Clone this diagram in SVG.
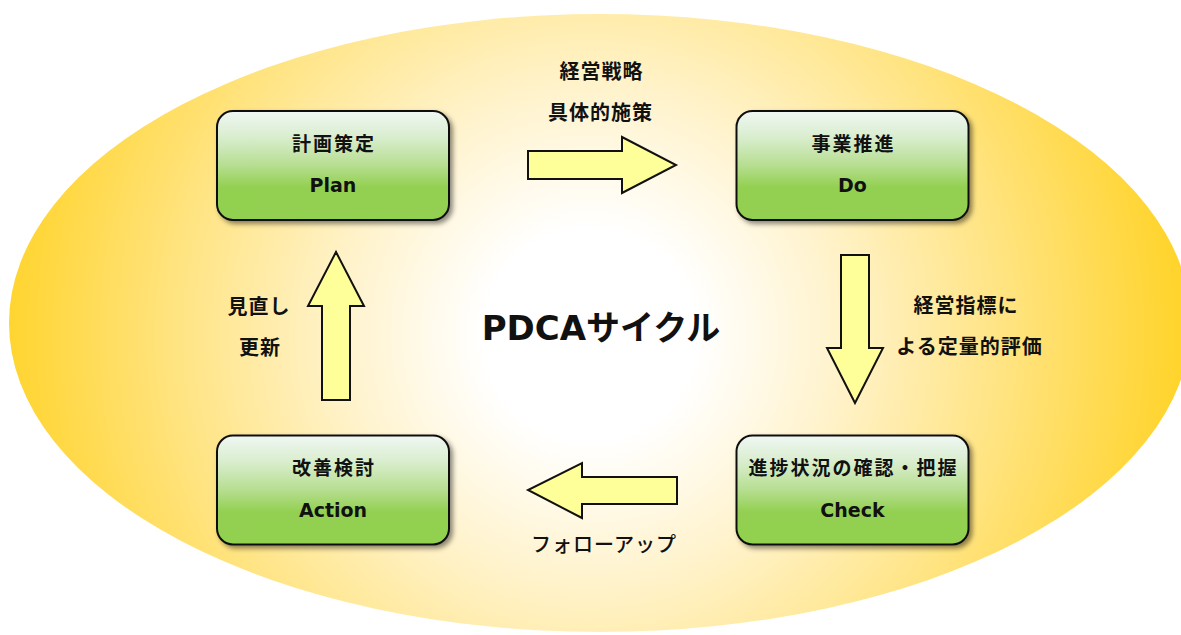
<svg xmlns="http://www.w3.org/2000/svg" width="1181" height="635" viewBox="0 0 1181 635">
  <defs>
    <radialGradient id="bg" gradientUnits="userSpaceOnUse" cx="590" cy="335" r="590">
      <stop offset="0" stop-color="#FFFFFF"/>
      <stop offset="0.18" stop-color="#FFFFFF"/>
      <stop offset="0.42" stop-color="#FFF3CC"/>
      <stop offset="0.68" stop-color="#FFE588"/>
      <stop offset="1" stop-color="#FFD42C"/>
    </radialGradient>
    <linearGradient id="boxg" x1="0" y1="0" x2="0" y2="1">
      <stop offset="0" stop-color="#F0F7F4"/>
      <stop offset="0.25" stop-color="#D8EDCC"/>
      <stop offset="0.5" stop-color="#B6DE90"/>
      <stop offset="0.7" stop-color="#93D051"/>
      <stop offset="1" stop-color="#92D050"/>
    </linearGradient>
    <filter id="shadow" x="-10%" y="-10%" width="125%" height="130%">
      <feDropShadow dx="3" dy="3" stdDeviation="2.5" flood-color="#000000" flood-opacity="0.45"/>
    </filter>
    <style>
      .box { fill: url(#boxg); stroke: #111111; stroke-width: 2; filter: url(#shadow); }
      .arrow { fill: #FFFF99; stroke: #111111; stroke-width: 2; stroke-linejoin: miter; }
      .jp { font-family: "Noto Sans CJK JP", "DejaVu Sans", sans-serif; font-weight: bold; font-size: 19px; letter-spacing: 2px; fill: #111111; text-anchor: middle; }
      .en { font-family: "DejaVu Sans", "Noto Sans CJK JP", sans-serif; font-weight: bold; font-size: 19px; fill: #111111; text-anchor: middle; }
      .lbl { font-family: "Noto Sans CJK JP", sans-serif; font-weight: bold; font-size: 20px; letter-spacing: 1px; fill: #111111; text-anchor: middle; }
      .lblr { font-family: "Noto Sans CJK JP", sans-serif; font-weight: 500; font-size: 20px; letter-spacing: 1px; fill: #111111; text-anchor: middle; }
      .title { font-family: "DejaVu Sans", "Noto Sans CJK JP", sans-serif; font-weight: bold; font-size: 34px; fill: #111111; text-anchor: middle; }
    </style>
  </defs>

  <ellipse id="background" cx="600" cy="323" rx="591" ry="309" fill="url(#bg)"/>

  <text id="title" class="title" x="601" y="340">PDCAサイクル</text>

  <g id="plan">
    <rect class="box" x="217" y="111" width="232" height="109" rx="16" ry="16"/>
    <text class="jp" x="334" y="151">計画策定</text>
    <text class="en" x="333" y="192">Plan</text>
  </g>

  <g id="do">
    <rect class="box" x="736.5" y="111" width="232" height="109" rx="16" ry="16"/>
    <text class="jp" x="853.5" y="151">事業推進</text>
    <text class="en" x="852.5" y="192">Do</text>
  </g>

  <g id="check">
    <rect class="box" x="736.5" y="435.5" width="232" height="109" rx="16" ry="16"/>
    <text class="jp" x="853.5" y="475">進捗状況の確認・把握</text>
    <text class="en" x="852.5" y="517">Check</text>
  </g>

  <g id="action">
    <rect class="box" x="217" y="435.5" width="232" height="109" rx="16" ry="16"/>
    <text class="jp" x="334" y="475">改善検討</text>
    <text class="en" x="333" y="517">Action</text>
  </g>

  <g id="connectors">
    <g id="plan-to-do">
      <polygon class="arrow" points="528,151 622,151 622,137 676,165 622,193 622,179 528,179"/>
      <text class="lbl" x="601.5" y="79">経営戦略</text>
      <text class="lbl" x="600.5" y="120">具体的施策</text>
    </g>
    <g id="do-to-check">
      <polygon class="arrow" points="841,255 869,255 869,348 883,348 855,403 827,348 841,348"/>
      <text class="lbl" x="966" y="313">経営指標に</text>
      <text class="lbl" x="969.5" y="354">よる定量的評価</text>
    </g>
    <g id="check-to-action">
      <polygon class="arrow" points="677,477 677,504 582,504 582,518 528,490 582,463 582,477"/>
      <text class="lblr" x="604" y="552">フォローアップ</text>
    </g>
    <g id="action-to-plan">
      <polygon class="arrow" points="322,400 350,400 350,306 364,306 336,252 308,306 322,306"/>
      <text class="lbl" x="259" y="314">見直し</text>
      <text class="lbl" x="260" y="355">更新</text>
    </g>
  </g>
</svg>
